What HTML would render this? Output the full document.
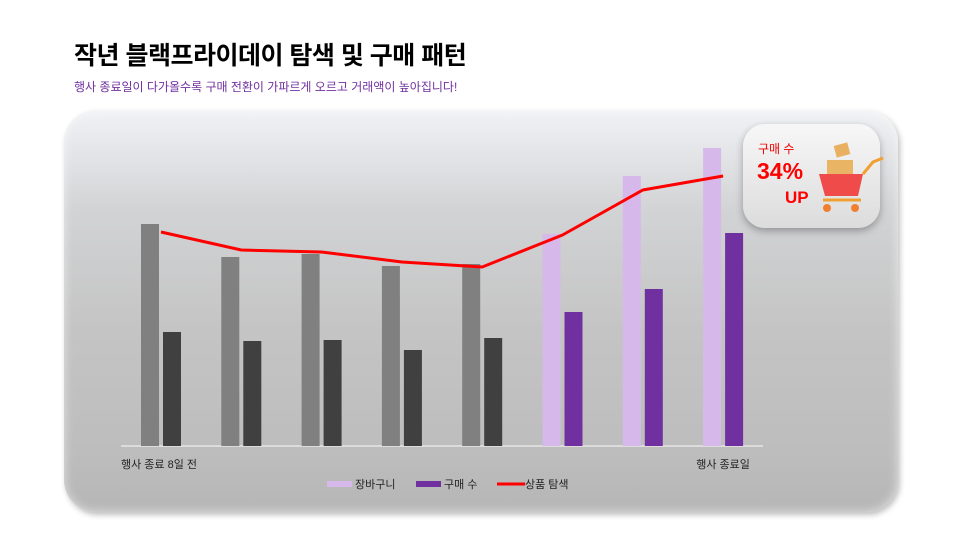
<!DOCTYPE html>
<html><head><meta charset="utf-8"><style>
body{margin:0;width:960px;height:540px;background:#fff;font-family:"Liberation Sans","Noto Sans CJK KR",sans-serif;overflow:hidden;position:relative}
.t{position:absolute;left:74px;top:36px;font-size:25px;font-weight:bold;color:#000;letter-spacing:-0.5px}
.s{position:absolute;left:74px;top:78px;font-size:12px;color:#7030a0}
.panel{position:absolute;left:64px;top:110px;width:834px;height:402px;border-radius:32px;background:linear-gradient(180deg,#f1f2f5 0%,#d2d3d5 25%,#c4c4c4 55%,#bdbdbd 85%,#b6b6b6 100%);box-shadow:2px 3px 6px rgba(0,0,0,.25),inset 0 0 10px rgba(255,255,255,.6)}
.badge{position:absolute;left:743px;top:124px;width:137px;height:104px;border-radius:22px;background:linear-gradient(180deg,#f7f7f8,#dcdcdc);box-shadow:0 3px 8px rgba(0,0,0,.3)}
</style></head><body>
<div class="t">작년 블랙프라이데이 탐색 및 구매 패턴</div>
<div class="s">행사 종료일이 다가올수록 구매 전환이 가파르게 오르고 거래액이 높아집니다!</div>
<div class="panel"></div>
<svg id="c" width="960" height="540" style="position:absolute;left:0;top:0"></svg>
<div class="badge">
<div style="position:absolute;left:15px;top:16px;font-size:12px;color:#e00">구매 수</div>
<div style="position:absolute;left:14px;top:34px;font-size:23px;font-weight:bold;color:#f00">34%</div>
<div style="position:absolute;left:42px;top:64px;font-size:17px;font-weight:bold;color:#f00">UP</div>
<svg width="80" height="80" style="position:absolute;left:70px;top:14px">
<rect x="22" y="6" width="14" height="12" fill="#e8b060" transform="rotate(-15 29 12)"/>
<rect x="14" y="22" width="26" height="18" fill="#e9b463"/>
<path d="M6 36 L50 36 L45 58 L12 58 Z" fill="#ef4b4b"/>
<path d="M50 36 L60 24 L70 20" stroke="#f0a030" stroke-width="3" fill="none"/>
<path d="M10 62 L48 62" stroke="#f0a030" stroke-width="3"/>
<circle cx="14" cy="70" r="4" fill="#f08030"/><circle cx="42" cy="70" r="4" fill="#f08030"/>
</svg></div>
<script>
const categories=["행사 종료 8일 전","","","","","","","행사 종료일"];
const cartValues=[222,189,192,180,182,212,270,298];
const purchaseValues=[114,105,106,96,108,134,157,213];
const searchValues=[214,196,194,184,179,211,256,270];
const NS="http://www.w3.org/2000/svg";
const svg=document.getElementById('c');
const x0=121,step=80.3,base=446;
const xc=i=>x0+40+step*i;
const y=v=>base-v;
function mk(t,a){const e=document.createElementNS(NS,t);for(const k in a)e.setAttribute(k,a[k]);svg.appendChild(e);return e;}
const ax=mk('line',{x1:x0,x2:763,y1:base,y2:base,stroke:'#e6e6e6','stroke-width':1.5});


cartValues.forEach((v,i)=>{
 const r=mk('rect',{x:xc(i)-20,y:y(v),width:18,height:v,fill:i<5?'#808080':'#d7b8ea'});
 
 
});
purchaseValues.forEach((v,i)=>{
 const r=mk('rect',{x:xc(i)+2,y:y(v),width:18,height:v,fill:i<5?'#404040':'#7030a0'});
 
 
});
const pl=mk('polyline',{points:searchValues.map((v,i)=>xc(i)+','+y(v)).join(' '),fill:'none',stroke:'#f00','stroke-width':3,'stroke-linejoin':'round'});


categories.forEach((c,i)=>{if(!c)return;
 const t=mk('text',{x:i==0?x0:xc(i),y:468,'font-size':11,fill:'#222','text-anchor':i==0?'start':'middle'});t.textContent=c;
 
 
});
const leg=[["장바구니",'#d7b8ea','rect',327],["구매 수",'#7030a0','rect',416],["상품 탐색",'#f00','line',497]];
leg.forEach(l=>{
 const m=l[2]=='rect'?mk('rect',{x:l[3],y:481,width:25,height:6,fill:l[1]}):mk('line',{x1:l[3],x2:l[3]+28,y1:484,y2:484,stroke:l[1],'stroke-width':3});
 
 
 const t=mk('text',{x:l[3]+28,y:488,'font-size':11,fill:'#222'});t.textContent=l[0];
 
 
});
</script>
</body></html>
